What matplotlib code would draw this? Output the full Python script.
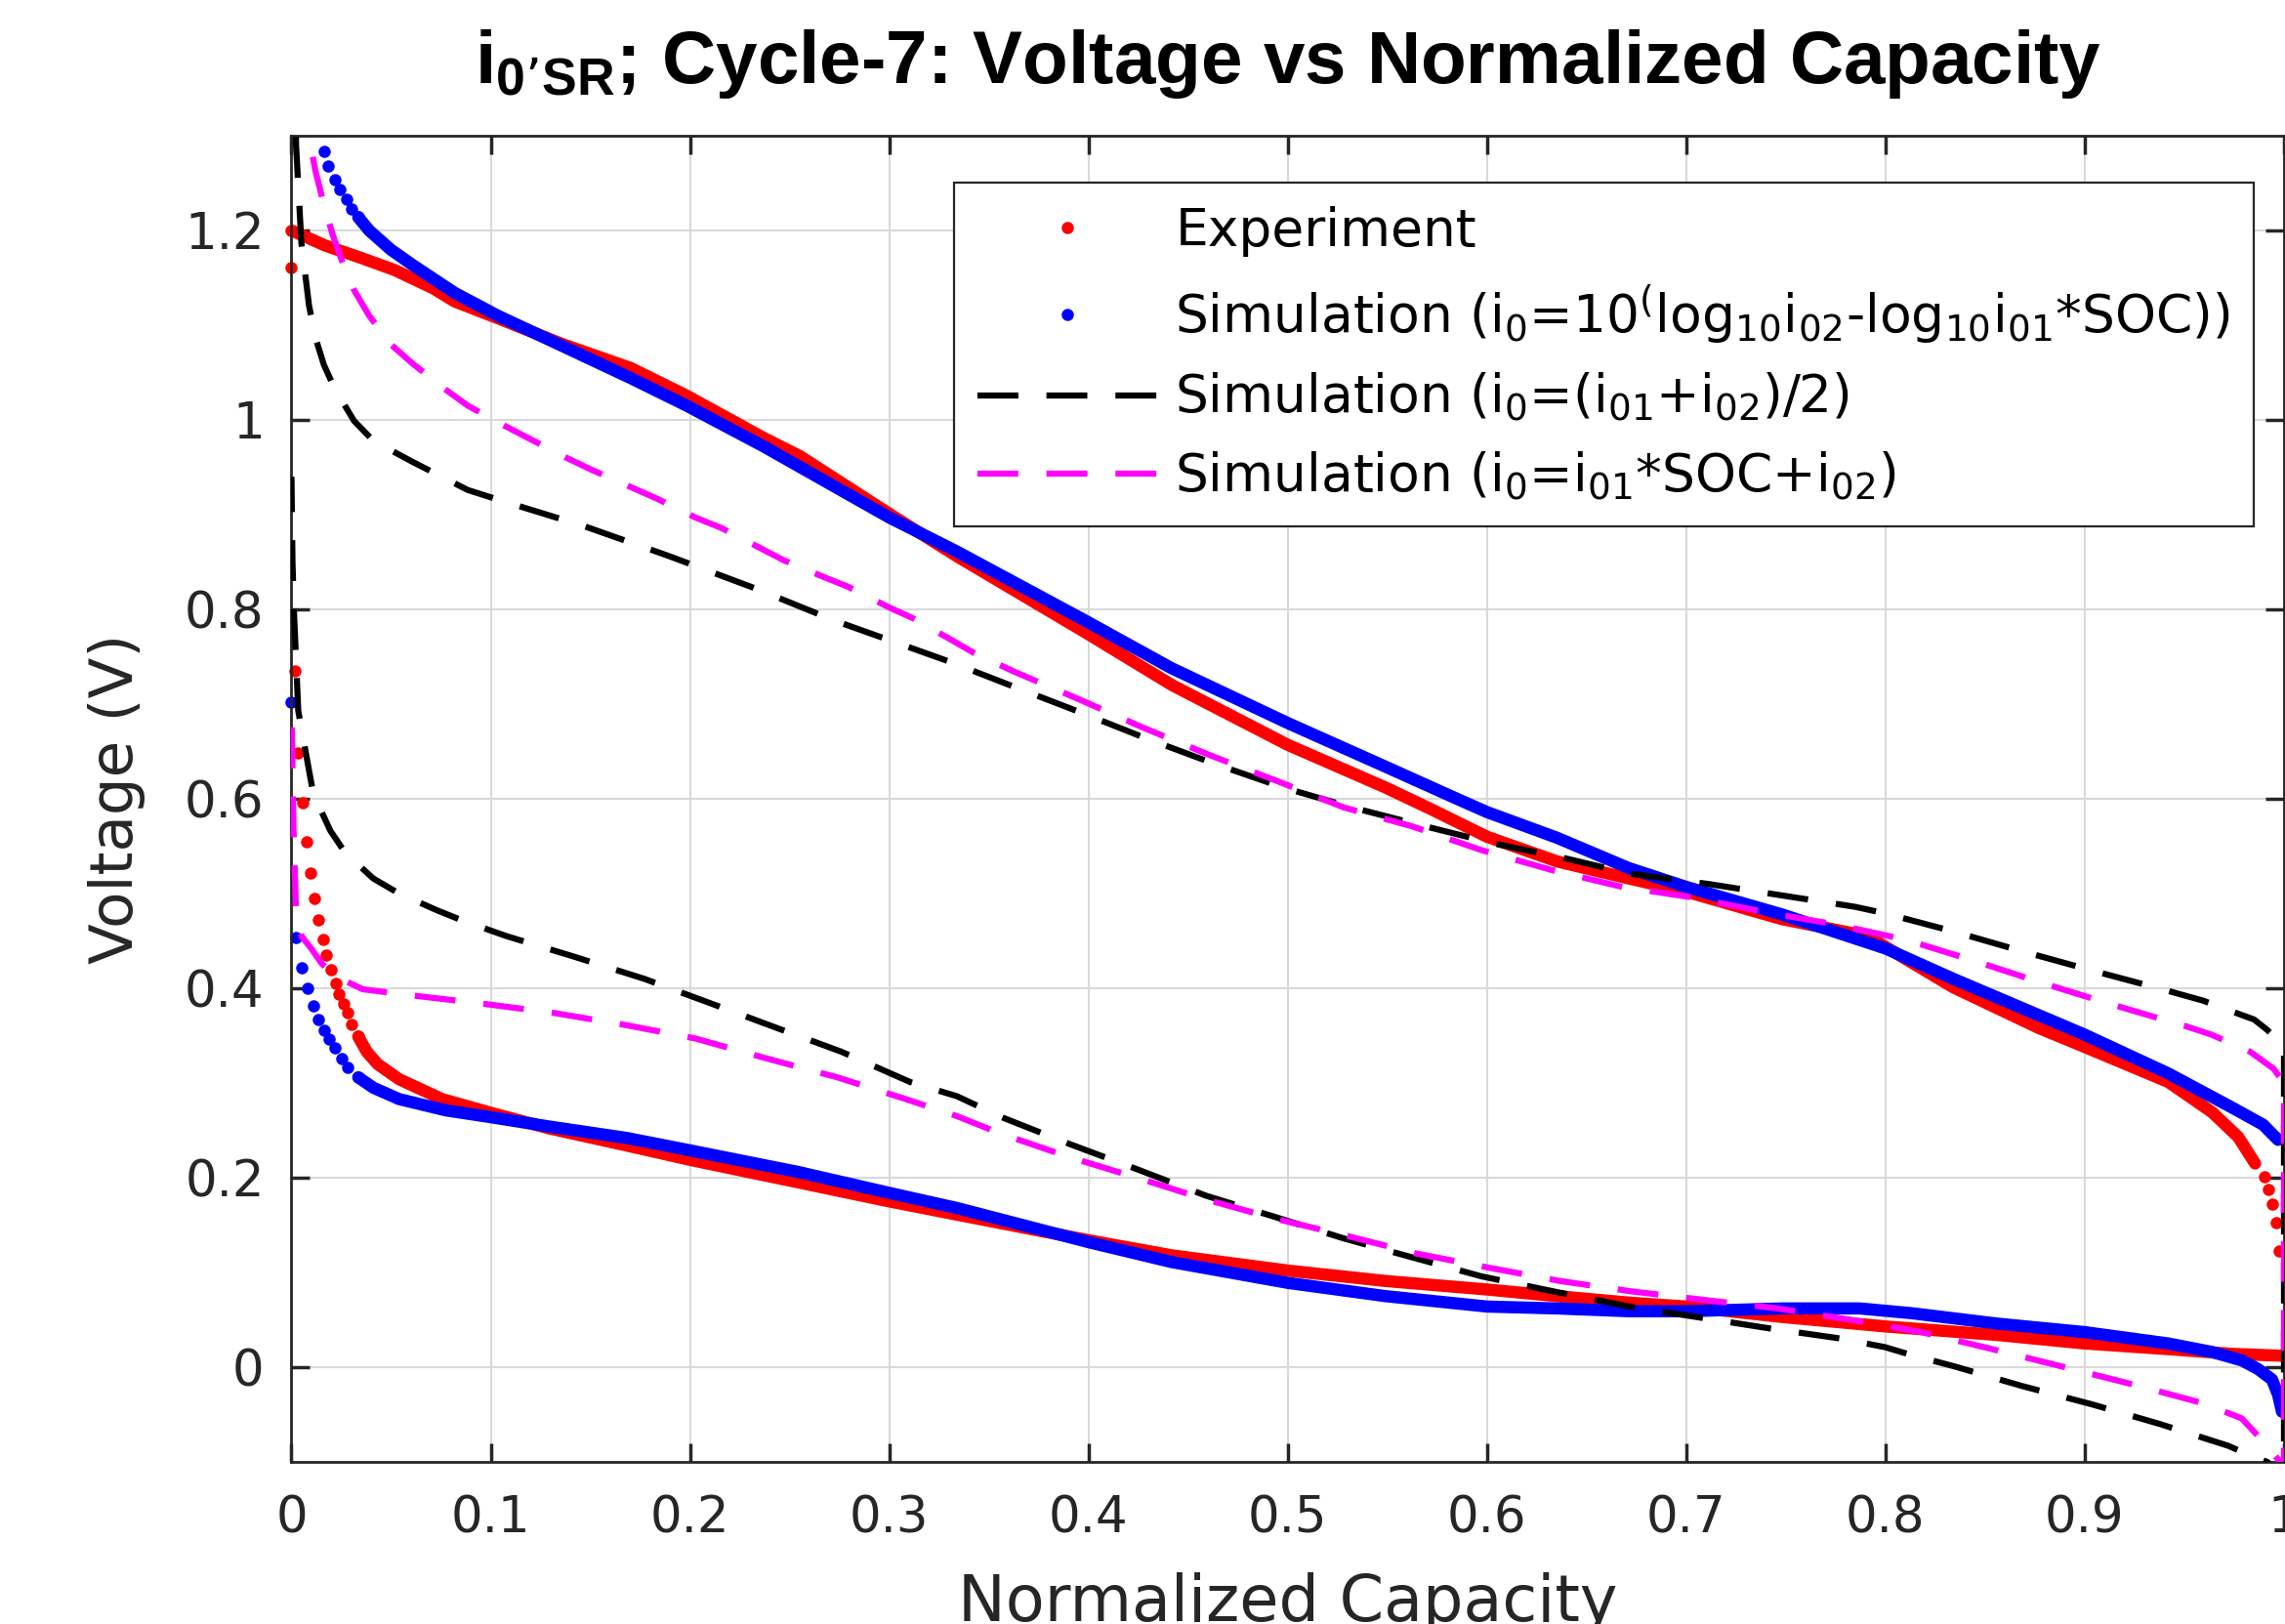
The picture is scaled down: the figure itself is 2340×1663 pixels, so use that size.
import matplotlib
matplotlib.use('Agg')
import matplotlib.pyplot as plt
from matplotlib.lines import Line2D

# ---- data (x = normalized capacity, v = voltage) ----

# Experiment: upper branch (dense part) + loose dots at both ends
EXP_UP_X = [0.0, 0.017, 0.035, 0.052, 0.071, 0.082, 0.104, 0.136, 0.170, 0.198,
            0.237, 0.255, 0.300, 0.334, 0.399, 0.442, 0.500, 0.549, 0.571, 0.600,
            0.635, 0.671, 0.700, 0.748, 0.791, 0.834, 0.877, 0.900, 0.942, 0.964,
            0.977, 0.9855]
EXP_UP_V = [1.200, 1.184, 1.171, 1.158, 1.139, 1.125, 1.107, 1.080, 1.055, 1.026,
            0.981, 0.962, 0.901, 0.856, 0.775, 0.720, 0.657, 0.612, 0.590, 0.560,
            0.534, 0.516, 0.502, 0.473, 0.455, 0.401, 0.358, 0.338, 0.301, 0.269,
            0.243, 0.215]
EXP_UP_DOTS_X = [0.0, 0.0, 0.9902, 0.9922, 0.9941, 0.9959, 0.9976]
EXP_UP_DOTS_V = [1.161, 1.200, 0.201, 0.1875, 0.172, 0.1525, 0.1227]

# Experiment: lower branch
EXP_DN_DOTS_X = [0.0017, 0.0034, 0.0055, 0.0077, 0.0094, 0.0115, 0.0137, 0.0157,
                 0.0176, 0.020, 0.0221, 0.0238, 0.026, 0.0282, 0.0303, 0.0335]
EXP_DN_DOTS_V = [0.735, 0.648, 0.596, 0.555, 0.522, 0.495, 0.472, 0.452,
                 0.435, 0.420, 0.405, 0.394, 0.384, 0.374, 0.362, 0.349]
EXP_DN_X = [0.0335, 0.0378, 0.0432, 0.054, 0.0756, 0.0993, 0.1295, 0.1682, 0.1997,
            0.2545, 0.300, 0.334, 0.400, 0.442, 0.500, 0.549, 0.600, 0.635, 0.672,
            0.700, 0.748, 0.800, 0.856, 0.900, 0.942, 0.974, 1.0]
EXP_DN_V = [0.349, 0.333, 0.320, 0.304, 0.283, 0.269, 0.252, 0.234, 0.219,
            0.195, 0.175, 0.161, 0.134, 0.118, 0.102, 0.091, 0.082, 0.075, 0.068,
            0.064, 0.053, 0.043, 0.034, 0.025, 0.019, 0.014, 0.012]

# Simulation, i0 = 10^(log10 i02 - log10 i01 * SOC)
LOG_UP_DOTS_X = [0.0163, 0.0185, 0.0217, 0.0245, 0.0276, 0.0303, 0.0335]
LOG_UP_DOTS_V = [1.284, 1.268, 1.254, 1.243, 1.233, 1.223, 1.214]
LOG_UP_X = [0.0335, 0.039, 0.0497, 0.0605, 0.082, 0.1036, 0.136, 0.1704, 0.1984,
            0.237, 0.300, 0.334, 0.3985, 0.4416, 0.500, 0.549, 0.586, 0.600, 0.635,
            0.671, 0.700, 0.748, 0.800, 0.834, 0.900, 0.942, 0.974, 0.9895, 0.997]
LOG_UP_V = [1.214, 1.200, 1.180, 1.164, 1.134, 1.110, 1.078, 1.044, 1.015,
            0.972, 0.897, 0.861, 0.788, 0.738, 0.680, 0.634, 0.599, 0.586, 0.559,
            0.527, 0.507, 0.478, 0.442, 0.410, 0.351, 0.310, 0.274, 0.256, 0.240]
LOG_DN_DOTS_X = [0.0, 0.0023, 0.0051, 0.0081, 0.0109, 0.0137, 0.0163, 0.0189,
                 0.0217, 0.025, 0.0282, 0.0335]
LOG_DN_DOTS_V = [0.702, 0.454, 0.422, 0.400, 0.381, 0.367, 0.356, 0.346,
                 0.337, 0.326, 0.317, 0.306]
LOG_DN_X = [0.0335, 0.0411, 0.054, 0.0777, 0.0997, 0.1295, 0.1682, 0.1997, 0.2545,
            0.300, 0.334, 0.400, 0.4416, 0.500, 0.549, 0.600, 0.635, 0.672, 0.700,
            0.748, 0.787, 0.813, 0.856, 0.900, 0.942, 0.964, 0.979, 0.987, 0.994,
            0.997, 0.999]
LOG_DN_V = [0.306, 0.295, 0.283, 0.271, 0.264, 0.254, 0.242, 0.229, 0.206,
            0.184, 0.168, 0.132, 0.111, 0.089, 0.075, 0.064, 0.062, 0.059, 0.059,
            0.062, 0.062, 0.057, 0.046, 0.037, 0.025, 0.016, 0.007, -0.002, -0.013,
            -0.029, -0.047]

# Simulation, i0 = (i01 + i02) / 2
MEAN_UP_X = [0.0012, 0.0023, 0.005, 0.0066, 0.0088, 0.012, 0.0163, 0.0217, 0.0314,
             0.0411, 0.0605, 0.0885, 0.108, 0.1467, 0.1898, 0.2329, 0.2727, 0.330,
             0.363, 0.3963, 0.4287, 0.4632, 0.4976, 0.532, 0.569, 0.6032, 0.6397,
             0.6716, 0.7114, 0.748, 0.7847, 0.800, 0.834, 0.8687, 0.9032, 0.9388,
             0.9593, 0.9733, 0.985, 0.9916, 0.997, 1.0]
MEAN_UP_V = [1.50, 1.29, 1.186, 1.159, 1.121, 1.087, 1.058, 1.033, 0.999,
             0.978, 0.956, 0.926, 0.913, 0.888, 0.856, 0.822, 0.788, 0.745,
             0.718, 0.691, 0.664, 0.637, 0.612, 0.591, 0.571, 0.553, 0.537,
             0.521, 0.510, 0.498, 0.486, 0.479, 0.460, 0.439, 0.419, 0.399,
             0.387, 0.376, 0.367, 0.356, 0.345, 0.330]
MEAN_DN_X = [0.0, 0.0005, 0.0012, 0.0034, 0.0088, 0.011, 0.0196, 0.027, 0.041,
             0.054, 0.0734, 0.0864, 0.108, 0.1424, 0.177, 0.2092, 0.2437, 0.276,
             0.3105, 0.334, 0.3575, 0.390, 0.4243, 0.459, 0.493, 0.528, 0.5623,
             0.597, 0.6334, 0.6716, 0.705, 0.7416, 0.7782, 0.800, 0.8127, 0.8343,
             0.8687, 0.9032, 0.9377, 0.972, 0.985, 0.9916, 0.996, 1.0]
MEAN_DN_V = [0.94, 0.85, 0.80, 0.693, 0.630, 0.605, 0.566, 0.543, 0.516,
             0.500, 0.482, 0.471, 0.455, 0.433, 0.410, 0.385, 0.358, 0.333,
             0.301, 0.286, 0.263, 0.236, 0.209, 0.181, 0.159, 0.136, 0.116,
             0.096, 0.080, 0.064, 0.053, 0.041, 0.030, 0.021, 0.013, 0.001,
             -0.020, -0.039, -0.060, -0.083, -0.095, -0.100, -0.108, -0.120]

# Simulation, i0 = i01 * SOC + i02
LIN_UP_X = [0.0075, 0.0088, 0.012, 0.0163, 0.0206, 0.026, 0.0314, 0.039, 0.0497,
            0.0605, 0.0767, 0.0885, 0.1068, 0.1187, 0.138, 0.151, 0.1704, 0.1833,
            0.2027, 0.2157, 0.235, 0.2469, 0.2673, 0.2792, 0.300, 0.3115, 0.331,
            0.3425, 0.363, 0.3953, 0.4276, 0.461, 0.4944, 0.528, 0.5623, 0.597,
            0.6322, 0.6678, 0.7028, 0.7405, 0.776, 0.8106, 0.846, 0.8795, 0.915,
            0.9507, 0.9636, 0.983, 0.9948, 1.0]
LIN_UP_V = [1.35, 1.30, 1.263, 1.227, 1.196, 1.164, 1.137, 1.110, 1.080,
            1.060, 1.033, 1.015, 0.994, 0.981, 0.960, 0.947, 0.929, 0.917,
            0.897, 0.886, 0.865, 0.852, 0.834, 0.824, 0.802, 0.791, 0.768,
            0.754, 0.734, 0.705, 0.675, 0.646, 0.619, 0.591, 0.571, 0.546,
            0.525, 0.507, 0.496, 0.480, 0.467, 0.451, 0.428, 0.405, 0.382,
            0.360, 0.351, 0.333, 0.315, 0.300]
LIN_DN_X = [0.0, 0.001, 0.0023, 0.005, 0.0099, 0.0152, 0.0228, 0.0357, 0.0583,
            0.095, 0.1316, 0.1682, 0.2027, 0.2383, 0.2739, 0.3083, 0.334, 0.3554,
            0.390, 0.4243, 0.459, 0.4933, 0.529, 0.5645, 0.601, 0.6366, 0.6726,
            0.709, 0.746, 0.7825, 0.818, 0.8537, 0.888, 0.9237, 0.9593, 0.9787,
            0.9916, 0.998, 1.0]
LIN_DN_V = [0.70, 0.57, 0.48, 0.455, 0.442, 0.426, 0.412, 0.399, 0.393,
            0.384, 0.374, 0.361, 0.347, 0.326, 0.306, 0.283, 0.265, 0.247,
            0.222, 0.200, 0.177, 0.157, 0.139, 0.120, 0.105, 0.091, 0.080,
            0.071, 0.062, 0.050, 0.037, 0.019, 0.001, -0.018, -0.038, -0.054,
            -0.083, -0.100, -0.110]

LABELS = [
    'Experiment',
    r'Simulation (i$_0$=10$^{(}$log$_{10}$i$_{02}$-log$_{10}$i$_{01}$*SOC))',
    r'Simulation (i$_0$=(i$_{01}$+i$_{02}$)/2)',
    r'Simulation (i$_0$=i$_{01}$*SOC+i$_{02}$)',
]
TITLE = 'i$_{0’SR}$; Cycle-7: Voltage vs Normalized Capacity'
X_TICKS = [0, 0.1, 0.2, 0.3, 0.4, 0.5, 0.6, 0.7, 0.8, 0.9, 1.0]
Y_TICKS = [0, 0.2, 0.4, 0.6, 0.8, 1.0, 1.2]

# ---- style ----
plt.rcParams['font.family'] = ['DejaVu Sans']
plt.rcParams['mathtext.default'] = 'regular'

DARK = '#262626'
DOT_SIZE = 9       # pt
DASH_LW = 4.5
DASHES = (6.7, 4.6)


def dotted(ax, xs, vs, dot_x, dot_v, color):
    # dense part of a '.'-marker series looks like a thick rounded line
    ax.plot(xs, vs, '-', color=color, lw=DOT_SIZE, solid_capstyle='round',
            solid_joinstyle='round', zorder=2)
    ax.plot(dot_x, dot_v, 'o', color=color, ms=DOT_SIZE, mec='none',
            zorder=2, clip_on=False)


fig = plt.figure(figsize=(23.4, 16.63), dpi=100)
ax = fig.add_axes([0.12756, 0.09982, 0.8720, 0.8166])

dotted(ax, EXP_UP_X, EXP_UP_V, EXP_UP_DOTS_X, EXP_UP_DOTS_V, 'red')
dotted(ax, EXP_DN_X, EXP_DN_V, EXP_DN_DOTS_X, EXP_DN_DOTS_V, 'red')
dotted(ax, LOG_UP_X, LOG_UP_V, LOG_UP_DOTS_X, LOG_UP_DOTS_V, 'blue')
dotted(ax, LOG_DN_X, LOG_DN_V, LOG_DN_DOTS_X, LOG_DN_DOTS_V, 'blue')

# dashed simulations: upper branch, then lower branch traced back to x = 0
ax.plot(MEAN_UP_X + MEAN_DN_X[::-1], MEAN_UP_V + MEAN_DN_V[::-1],
        color='black', lw=DASH_LW, dashes=DASHES, zorder=3)
ax.plot(LIN_UP_X + LIN_DN_X[::-1], LIN_UP_V + LIN_DN_V[::-1],
        color='magenta', lw=DASH_LW, dashes=DASHES, zorder=4)

ax.set_xlim(0, 1)
ax.set_ylim(-0.1, 1.3)
ax.set_xticks(X_TICKS)
ax.set_yticks(Y_TICKS)
ax.set_xticklabels(['%g' % t for t in X_TICKS])
ax.set_yticklabels(['%g' % t for t in Y_TICKS])
ax.grid(True, color='#d9d9d9', lw=1.5)
ax.set_axisbelow(True)
ax.tick_params(direction='in', length=14, width=2.5, colors=DARK,
               labelsize=37, top=True, right=True)
ax.tick_params(axis='x', pad=24)
ax.tick_params(axis='y', pad=20)
for sp in ax.spines.values():
    sp.set_color(DARK)
    sp.set_linewidth(2)

ax.set_xlabel('Normalized Capacity', fontsize=47, color=DARK)
ax.set_ylabel('Voltage (V)', fontsize=44, color=DARK)
ax.xaxis.set_label_coords(0.5, -0.083)
ax.yaxis.set_label_coords(-0.0732, 0.5)

ax.set_title(TITLE, fontsize=55, fontweight='bold', family='Liberation Sans',
             pad=39)

handles = [
    Line2D([], [], ls='none', marker='o', color='red', ms=DOT_SIZE, mec='none'),
    Line2D([], [], ls='none', marker='o', color='blue', ms=DOT_SIZE, mec='none'),
    Line2D([], [], color='black', lw=DASH_LW, dashes=DASHES),
    Line2D([], [], color='magenta', lw=DASH_LW, dashes=DASHES),
]
leg = ax.legend(handles, LABELS, loc='upper right', bbox_to_anchor=(0.9847, 0.965),
                borderaxespad=0, fontsize=38.4, handlelength=3.45, handletextpad=0.34,
                borderpad=0.45, labelspacing=0.5, fancybox=False, framealpha=1,
                edgecolor=DARK)
leg.get_frame().set_linewidth(1.6)

fig.savefig('out.png', dpi=100)
